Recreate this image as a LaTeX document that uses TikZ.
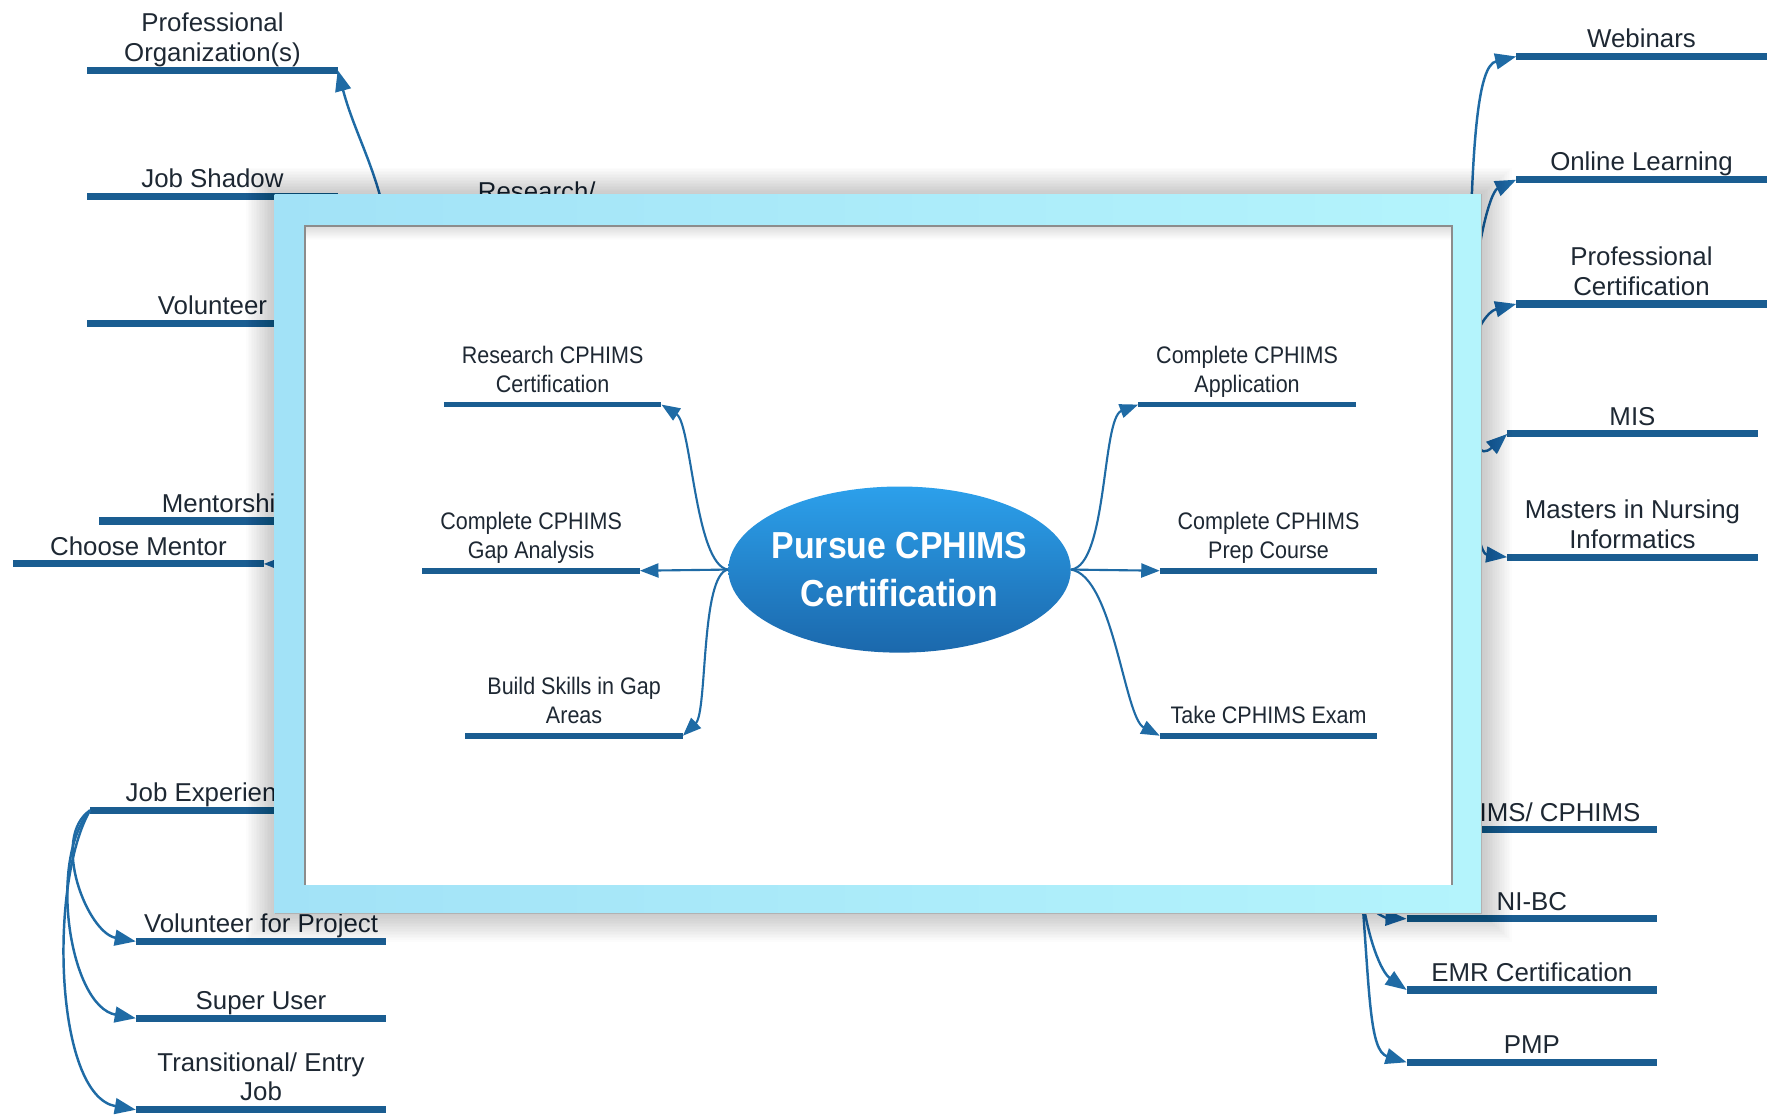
\documentclass[tikz,border=0pt]{standalone}
\usepackage{fontspec}
\setmainfont{Liberation Sans}
\newfontfamily\narrowfont[FakeStretch=0.9]{Liberation Sans}
\usetikzlibrary{arrows.meta,shapes.geometric}
\newlength{\pxunit}
\setlength{\pxunit}{0.0226cm}
\definecolor{barblue}{HTML}{1A5D91}
\definecolor{linkblue}{HTML}{1F6BA5}
\definecolor{inktext}{HTML}{1E2833}
\definecolor{frameleft}{HTML}{A2E2F7}
\definecolor{frameright}{HTML}{B4F4FC}
\definecolor{ovaltop}{HTML}{2CA0EB}
\definecolor{ovalbot}{HTML}{1B68AC}
\tikzset{
  bar/.style={draw=barblue, line width=4pt},
  subbar/.style={draw=barblue, line width=3.3pt},
  topic/.style={anchor=south, minimum width=#1, inner xsep=0pt, inner ysep=4.8pt,
    text depth=0pt, align=center, text=inktext, font=\fontsize{14.7}{17}\selectfont,
    append after command={(\tikzlastnode.south west) edge[bar] (\tikzlastnode.south east)}},
  topic/.default=221\pxunit,
  subtopic/.style={anchor=south, minimum width=192\pxunit, inner xsep=0pt, inner ysep=6.5pt,
    text depth=0pt, align=center, text=inktext, font=\narrowfont\fontsize{13.6}{16.7}\selectfont,
    append after command={(\tikzlastnode.south west) edge[subbar] (\tikzlastnode.south east)}},
  cut/.style={inner sep=0pt, text=inktext, font=\fontsize{14.7}{17}\selectfont},
  link/.style={draw=linkblue, line width=1.4pt, -{Triangle[length=12pt,width=9pt]}},
  sublink/.style={draw=linkblue, line width=1.2pt, -{Triangle[length=10.5pt,width=8pt]}},
  oval/.style={ellipse, minimum width=303\pxunit, minimum height=147\pxunit, inner sep=0pt,
    top color=ovaltop, bottom color=ovalbot},
  ovaltext/.style={align=center, text=white, inner sep=0pt,
    font=\narrowfont\bfseries\fontsize{21.4}{27}\selectfont}
}

\begin{document}
\begin{tikzpicture}[x=\pxunit, y=\pxunit]
  \useasboundingbox (0,0) rectangle (1568,-988);

  \node[topic] (porg) at (188,-62) {Professional\\Organization(s)};
  \node[topic] (jshadow) at (188,-174) {Job Shadow};
  \node[topic] (volun) at (188,-286) {Volunteer};
  \node[topic=214\pxunit] (ment) at (195,-461) {};
  \node[cut, anchor=base east] (mentlbl) at (244,-453.5) {Mentorshi};
  \node[topic] (cmentor) at (122.5,-499) {Choose Mentor};
  \node[topic=220\pxunit] (jobexp) at (190,-717) {};
  \node[cut, anchor=base east] (jobexplbl) at (245,-709.5) {Job Experien};
  \node[topic] (volproj) at (231,-833) {Volunteer for Project};
  \node[topic] (suser) at (231,-901) {Super User};
  \node[topic] (trans) at (231,-982) {Transitional/ Entry\\Job};
  \node[cut, anchor=base] (reslbl) at (475,-177) {Research/};

  \node[topic] (webin) at (1452.5,-50) {Webinars};
  \node[topic] (online) at (1452.5,-159) {Online Learning};
  \node[topic] (pcert) at (1452.5,-269) {Professional\\Certification};
  \node[topic] (mis) at (1444.5,-384) {MIS};
  \node[topic] (msn) at (1444.5,-493) {Masters in Nursing\\Informatics};
  \node[topic] (cahims) at (1355.5,-734) {};
  \node[cut, anchor=base west] (cahimslbl) at (1309,-726.5) {IMS/ CPHIMS};
  \node[topic] (nibc) at (1355.5,-813) {NI-BC};
  \node[topic] (emr) at (1355.5,-876) {EMR Certification};
  \node[topic] (pmp) at (1355.5,-940) {PMP};

  \coordinate (reshub) at (345,-215);
  \coordinate (menthub) at (300,-499);
  \coordinate (eduhub) at (1300,-330);
  \coordinate (certhub) at (1205,-790);

  \draw[link] (reshub) to[out=98, in=-75] (porg.south east);
  \draw[link] (menthub) -- (cmentor.south east);
  \draw[link] (jobexp.south west) to[out=215, in=170, looseness=0.9] (volproj.south west);
  \draw[link] (jobexp.south west) to[out=230, in=170, looseness=0.8] (suser.south west);
  \draw[link] (jobexp.south west) to[out=240, in=170, looseness=0.7] (trans.south west);

  \draw[link] (eduhub) .. controls (1300,-120) and (1308,-58) .. (webin.south west);
  \draw[link] (eduhub) .. controls (1301,-230) and (1318,-170) .. (online.south west);
  \draw[link] (eduhub) .. controls (1302,-290) and (1318,-275) .. (pcert.south west);
  \draw[link] (eduhub) .. controls (1302,-400) and (1310,-405) .. (mis.south west);
  \draw[link] (eduhub) .. controls (1300,-460) and (1310,-490) .. (msn.south west);
  \draw[link] (certhub) .. controls (1210,-805) and (1225,-812) .. (nibc.south west);
  \draw[link] (certhub) .. controls (1210,-830) and (1222,-860) .. (emr.south west);
  \draw[link] (certhub) .. controls (1212,-880) and (1212,-930) .. (pmp.south west);

  \foreach \s in {1,...,18} {
    \fill[black, opacity=0.011] (243-1.4*\s,-172+1.3*\s) rectangle (1311+1.5*\s,-808-1.4*\s);
  }
  \fill[left color=frameleft, right color=frameright] (243,-172) rectangle (1311,-808);
  \draw[black!30, line width=0.7pt] (243,-808) -- (1311,-808) -- (1311,-172);
  \fill[white] (270,-200) rectangle (1285,-783);
  \fill[top color=black!14, bottom color=white] (270,-200) rectangle (1285,-212);
  \draw[black!45, line width=0.8pt] (270,-783) -- (270,-200) -- (1285,-200) -- (1285,-783);

  \node[oval] (pursue) at (796,-504) {};
  \node[ovaltext] (pursuelbl) at (pursue) {Pursue CPHIMS\\Certification};

  \node[subtopic] (rsch) at (489,-358) {Research CPHIMS\\Certification};
  \node[subtopic] (gapa) at (470,-505) {Complete CPHIMS\\Gap Analysis};
  \node[subtopic] (bskill) at (508,-651) {Build Skills in Gap\\Areas};
  \node[subtopic] (appl) at (1103.5,-358) {Complete CPHIMS\\Application};
  \node[subtopic] (prep) at (1122.5,-505) {Complete CPHIMS\\Prep Course};
  \node[subtopic] (exam) at (1122.5,-651) {Take CPHIMS Exam};

  \draw[sublink] (pursue.west) .. controls (615,-500) and (612,-375) .. (rsch.south east);
  \draw[sublink] (pursue.west) -- (gapa.south east);
  \draw[sublink] (pursue.west) .. controls (620,-508) and (626,-630) .. (bskill.south east);
  \draw[sublink] (pursue.east) .. controls (980,-500) and (975,-370) .. (appl.south west);
  \draw[sublink] (pursue.east) -- (prep.south west);
  \draw[sublink] (pursue.east) .. controls (985,-510) and (995,-635) .. (exam.south west);
\end{tikzpicture}
\end{document}
